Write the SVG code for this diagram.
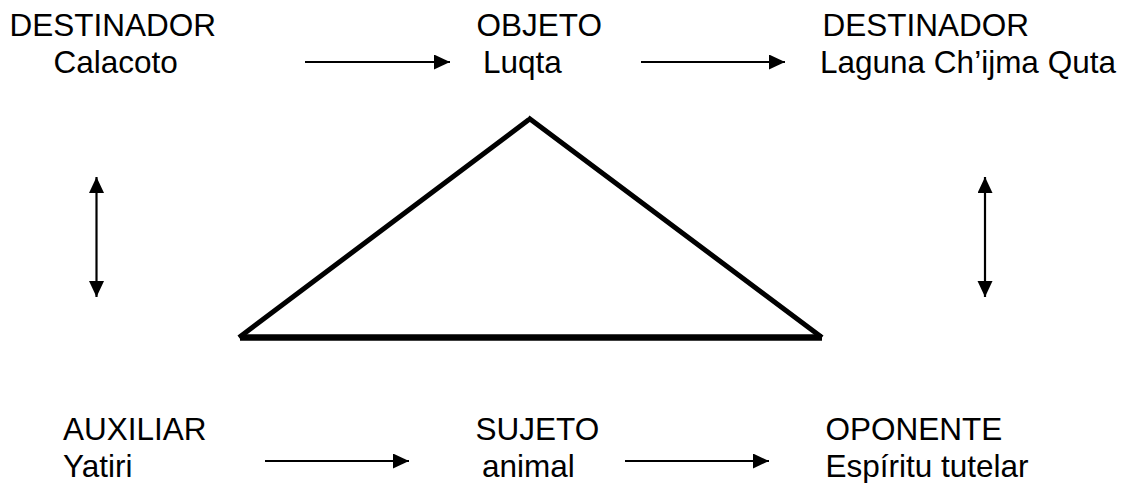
<svg xmlns="http://www.w3.org/2000/svg" width="1128" height="483" viewBox="0 0 1128 483">
<style>
text{font-family:"Liberation Sans",Arial,sans-serif;font-size:31.5px;fill:#000}
.c{stroke:#000;stroke-width:2.2;fill:none}
.t{stroke:#000;stroke-width:5;fill:none;stroke-linecap:square}
</style>
<defs>
<marker id="ah" markerUnits="userSpaceOnUse" markerWidth="18" markerHeight="16" refX="16" refY="7.5" orient="auto-start-reverse">
<path d="M0,0 L16,7.5 L0,15 Z" fill="#000"/>
</marker>
</defs>
<rect width="1128" height="483" fill="#fff"/>
<g id="destinador1"><text x="9.5" y="36">DESTINADOR</text><text x="53.5" y="72.5">Calacoto</text></g>
<g id="objeto"><text x="476.5" y="36">OBJETO</text><text x="483" y="72.5">Luqta</text></g>
<g id="destinador2"><text x="822.5" y="36">DESTINADOR</text><text x="820" y="72.5">Laguna Ch’ijma Quta</text></g>
<g id="auxiliar"><text x="63" y="440">AUXILIAR</text><text x="63" y="477">Yatiri</text></g>
<g id="sujeto"><text x="475.5" y="440">SUJETO</text><text x="482" y="477">animal</text></g>
<g id="oponente"><text x="825.5" y="440">OPONENTE</text><text x="825.5" y="477">Espíritu tutelar</text></g>
<g id="triangle">
<line class="t" x1="241" y1="336" x2="527" y2="121"/>
<line class="t" x1="530" y1="119" x2="820" y2="336"/>
<line x1="240" y1="337.5" x2="822" y2="337.5" stroke="#000" stroke-width="6.5"/>
</g>
<g id="connectors">
<line class="c" x1="305" y1="62" x2="450" y2="62" marker-end="url(#ah)"/>
<line class="c" x1="641" y1="62" x2="785" y2="62" marker-end="url(#ah)"/>
<line class="c" x1="265" y1="461" x2="409" y2="461" marker-end="url(#ah)"/>
<line class="c" x1="625" y1="461" x2="769" y2="461" marker-end="url(#ah)"/>
<line class="c" x1="96.5" y1="177" x2="96.5" y2="297" stroke-width="2.6" marker-start="url(#ah)" marker-end="url(#ah)"/>
<line class="c" x1="985" y1="177" x2="985" y2="297" stroke-width="2.6" marker-start="url(#ah)" marker-end="url(#ah)"/>
</g>
</svg>
